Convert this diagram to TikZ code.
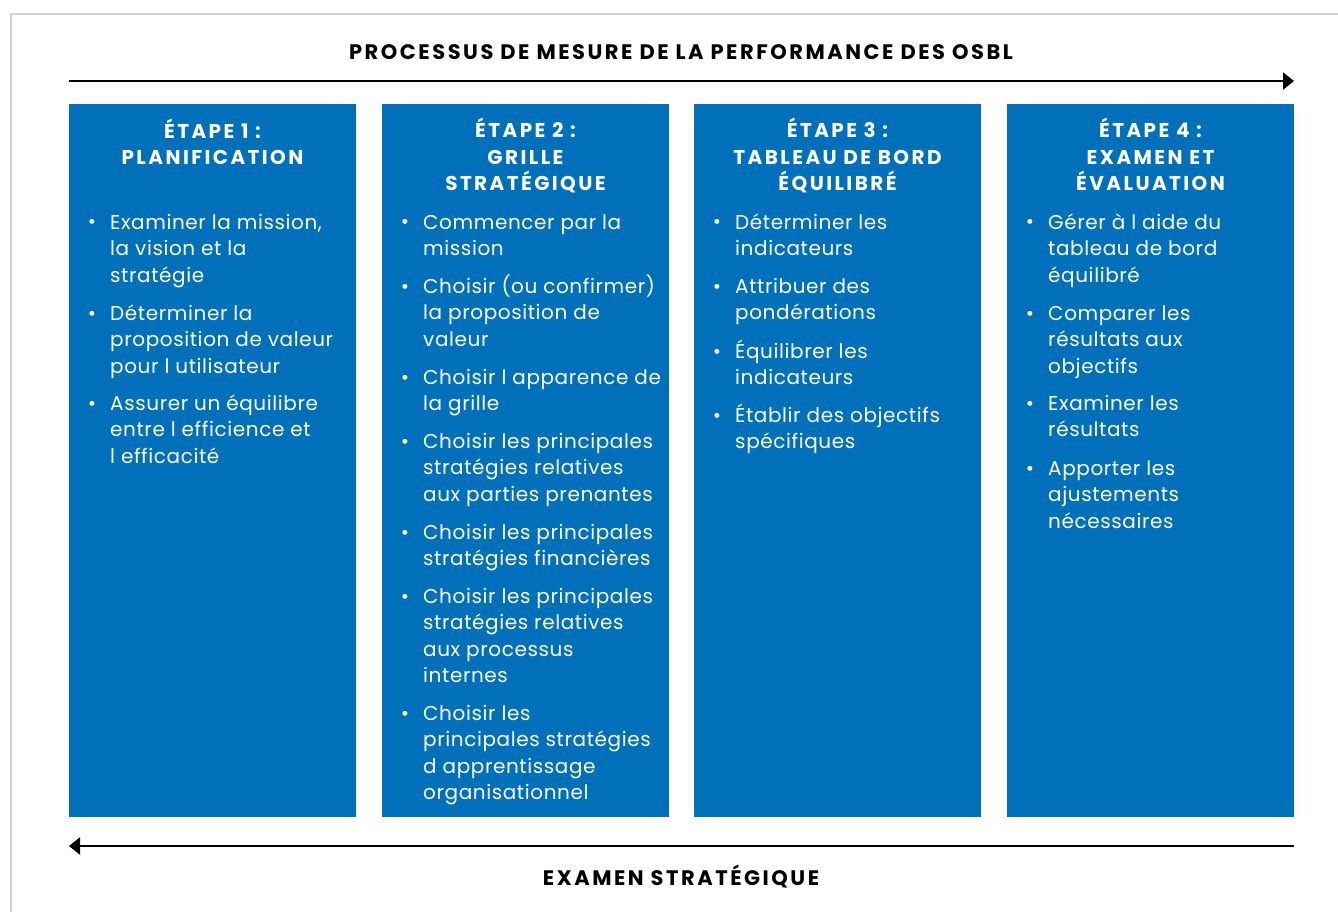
\documentclass[tikz,border=0pt]{standalone}
\usepackage{fontspec}
\setmainfont{Poppins}
\newfontfamily\headfont[LetterSpace=12]{Poppins}
\newfontfamily\bodyfont[LetterSpace=3]{Poppins}
\usetikzlibrary{arrows.meta}
\definecolor{osblue}{RGB}{0,112,186}
\definecolor{framegray}{RGB}{210,210,210}
\begin{document}
\begin{tikzpicture}[x=1pt,y=-1pt,
  stepbox/.style={fill=osblue,draw=none,inner sep=0pt,outer sep=0pt,minimum width=287pt,minimum height=713pt,anchor=north west},
  head/.style={text=white,font=\headfont\fontsize{20}{26.5}\selectfont\bfseries,align=center,anchor=base,inner sep=0pt},
  item/.style={text=white,font=\bodyfont\fontsize{20}{26.5}\selectfont,align=left,anchor=base west,inner sep=0pt},
  bul/.style={text=white,font=\fontsize{20}{26.5}\selectfont,anchor=base,inner sep=0pt},
  title/.style={font=\headfont\fontsize{21}{22}\selectfont\bfseries,anchor=base,inner sep=0pt},
  flow/.style={line width=2.2pt,-{Triangle[length=11pt,width=17pt]}}]
\useasboundingbox (0,0) rectangle (1338,912);
\draw[framegray,line width=2pt] (11,912) -- (11,14) -- (1338,14);
% title and arrows
\node[title] (t1) at (681,59.5) {PROCESSUS DE MESURE DE LA PERFORMANCE DES OSBL};
\coordinate (ts) at (69,81);
\coordinate (te) at (1294,81);
\draw[flow] (ts) -- (te);
\coordinate (bs) at (1294,846);
\coordinate (be) at (69,846);
\draw[flow] (bs) -- (be);
\node[title] (t2) at (681,885.5) {EXAMEN STRATÉGIQUE};
% boxes
\node[stepbox] (b1) at (69,104) {};
\node[stepbox] (b2) at (382,104) {};
\node[stepbox] (b3) at (694,104) {};
\node[stepbox] (b4) at (1007,104) {};
% headers (anchor = baseline of last line)
\node[head] (h1) at (212.5,165) {ÉTAPE 1 :\\PLANIFICATION};
\node[head] (h2) at (525.5,191) {ÉTAPE 2 :\\GRILLE\\STRATÉGIQUE};
\node[head] (h3) at (837.5,191) {ÉTAPE 3 :\\TABLEAU DE BORD\\ÉQUILIBRÉ};
\node[head] (h4) at (1150.5,191) {ÉTAPE 4 :\\EXAMEN ET\\ÉVALUATION};
% box 1
\node[bul] (p11) at (92,229) {•};
\node[item] (i11) at (110,282) {Examiner la mission,\\la vision et la\\stratégie};
\node[bul] (p12) at (92,320) {•};
\node[item] (i12) at (110,373) {Déterminer la\\proposition de valeur\\pour l utilisateur};
\node[bul] (p13) at (92,410) {•};
\node[item] (i13) at (110,463) {Assurer un équilibre\\entre l efficience et\\l efficacité};
% box 2
\node[bul] (p21) at (405,229) {•};
\node[item] (i21) at (423,255.5) {Commencer par la\\mission};
\node[bul] (p22) at (405,293) {•};
\node[item] (i22) at (423,346) {Choisir (ou confirmer)\\la proposition de\\valeur};
\node[bul] (p23) at (405,384) {•};
\node[item] (i23) at (423,410.5) {Choisir l apparence de\\la grille};
\node[bul] (p24) at (405,448) {•};
\node[item] (i24) at (423,501) {Choisir les principales\\stratégies relatives\\aux parties prenantes};
\node[bul] (p25) at (405,539) {•};
\node[item] (i25) at (423,565.5) {Choisir les principales\\stratégies financières};
\node[bul] (p26) at (405,603) {•};
\node[item] (i26) at (423,682.5) {Choisir les principales\\stratégies relatives\\aux processus\\internes};
\node[bul] (p27) at (405,720) {•};
\node[item] (i27) at (423,799.5) {Choisir les\\principales stratégies\\d apprentissage\\organisationnel};
% box 3
\node[bul] (p31) at (717,229) {•};
\node[item] (i31) at (735,255.5) {Déterminer les\\indicateurs};
\node[bul] (p32) at (717,293) {•};
\node[item] (i32) at (735,319.5) {Attribuer des\\pondérations};
\node[bul] (p33) at (717,358) {•};
\node[item] (i33) at (735,384.5) {Équilibrer les\\indicateurs};
\node[bul] (p34) at (717,422) {•};
\node[item] (i34) at (735,448.5) {Établir des objectifs\\spécifiques};
% box 4
\node[bul] (p41) at (1030,229) {•};
\node[item] (i41) at (1048,282) {Gérer à l aide du\\tableau de bord\\équilibré};
\node[bul] (p42) at (1030,320) {•};
\node[item] (i42) at (1048,373) {Comparer les\\résultats aux\\objectifs};
\node[bul] (p43) at (1030,410) {•};
\node[item] (i43) at (1048,436.5) {Examiner les\\résultats};
\node[bul] (p44) at (1030,475) {•};
\node[item] (i44) at (1048,528) {Apporter les\\ajustements\\nécessaires};
\end{tikzpicture}
\end{document}
